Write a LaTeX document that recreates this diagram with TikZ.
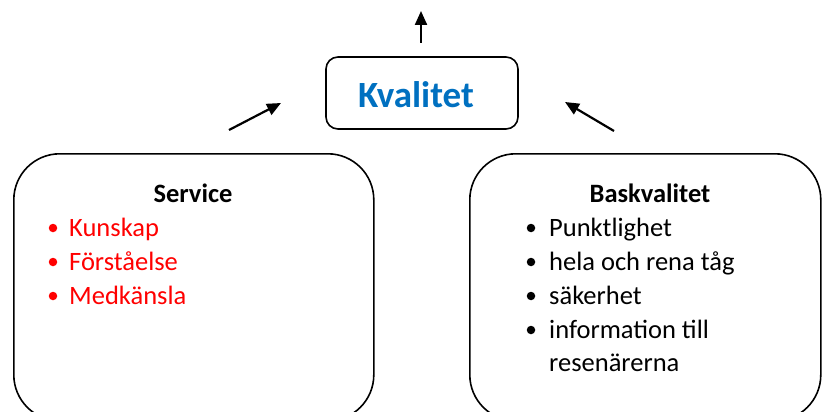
\documentclass[tikz,border=0pt]{standalone}
\usepackage{fontspec}
\setmainfont{Carlito}
\usetikzlibrary{arrows.meta}
\definecolor{kblue}{RGB}{0,112,192}
\definecolor{kred}{RGB}{255,0,0}
\tikzset{
  bigbox/.style={draw, line width=1.6pt, rounded corners=46pt, anchor=north west, inner sep=0pt},
  qbox/.style={draw, line width=1.6pt, rounded corners=12pt, minimum width=192pt, minimum height=72pt, inner sep=0pt},
  arr/.style={line width=2.2pt, -{Triangle[length=14pt,width=12pt]}},
  title/.style={font=\fontsize{26.5}{30}\selectfont\bfseries, inner sep=0pt},
  item/.style={font=\fontsize{26.5}{30}\selectfont, anchor=base west, inner sep=0pt},
  dot/.style={circle, fill, inner sep=0pt, minimum size=8.5pt},
}
\begin{document}
\begin{tikzpicture}[x=1pt,y=-1pt]
\useasboundingbox (0,0) rectangle (822,412);
\clip (0,0) rectangle (822,412);
% boxes
\node[qbox] (q) at (422,93) {};
\node[font=\fontsize{37}{40}\selectfont\bfseries, text=kblue, inner sep=0pt] (qt) at (416,95) {Kvalitet};
\node[bigbox, minimum width=360pt, minimum height=267pt] (s) at (13,153) {};
\node[bigbox, minimum width=351pt, minimum height=267pt] (b) at (469,153) {};
% arrows
\coordinate (t0) at (421,43);
\coordinate (t1) at (421,11);
\coordinate (l0) at (229,130);
\coordinate (l1) at (281,103);
\coordinate (r0) at (614,131);
\coordinate (r1) at (565,102);
\draw[arr] (t0) -- (t1);
\draw[arr] (l0) -- (l1);
\draw[arr] (r0) -- (r1);
% Service
\node[title] (st) at (193,193) {Service};
\begin{scope}[kred]
\node[dot] (sd1) at (53,228) {};
\node[dot] (sd2) at (53,262) {};
\node[dot] (sd3) at (53,296) {};
\node[item, text=kred] (s1) at (69,236) {Kunskap};
\node[item, text=kred] (s2) at (69,270) {Förståelse};
\node[item, text=kred] (s3) at (69,304) {Medkänsla};
\end{scope}
% Baskvalitet
\node[title] (bt) at (650,193) {Baskvalitet};
\node[dot] (bd1) at (531,228) {};
\node[dot] (bd2) at (531,262) {};
\node[dot] (bd3) at (531,296) {};
\node[dot] (bd4) at (531,330) {};
\node[item] (b1) at (549,236) {Punktlighet};
\node[item] (b2) at (549,270) {hela och rena tåg};
\node[item] (b3) at (549,304) {säkerhet};
\node[item] (b4) at (549,338) {information till};
\node[item] (b5) at (549,371) {resenärerna};
\end{tikzpicture}
\end{document}
